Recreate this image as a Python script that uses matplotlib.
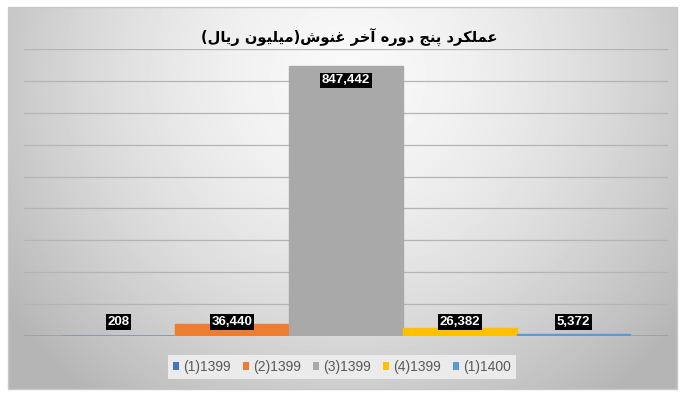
import numpy as np
import matplotlib
matplotlib.use('Agg')
import matplotlib.pyplot as plt
from matplotlib.patches import Rectangle

title = 'عملکرد پنج دوره آخر غنوش(میلیون ریال)'
periods = ['(1)1399', '(2)1399', '(3)1399', '(4)1399', '(1)1400']
values = [208, 36440, 847442, 26382, 5372]
colors = ['#4472C4', '#ED7D31', '#A9A9A9', '#FFC000', '#5B9BD5']

# matplotlib has no arabic shaping, so pick the contextual forms by hand
FORMS = {
    'ا': ('\uFE8D', '\uFE8E'), 'آ': ('\uFE81', '\uFE82'),
    'د': ('\uFEA9', '\uFEAA'), 'ر': ('\uFEAD', '\uFEAE'),
    'و': ('\uFEED', '\uFEEE'),
    'پ': ('\uFB56', '\uFB57', '\uFB58', '\uFB59'),
    'ج': ('\uFE9D', '\uFE9E', '\uFE9F', '\uFEA0'),
    'خ': ('\uFEA5', '\uFEA6', '\uFEA7', '\uFEA8'),
    'ش': ('\uFEB5', '\uFEB6', '\uFEB7', '\uFEB8'),
    'ع': ('\uFEC9', '\uFECA', '\uFECB', '\uFECC'),
    'غ': ('\uFECD', '\uFECE', '\uFECF', '\uFED0'),
    'ک': ('\uFB8E', '\uFB8F', '\uFB90', '\uFB91'),
    'ل': ('\uFEDD', '\uFEDE', '\uFEDF', '\uFEE0'),
    'م': ('\uFEE1', '\uFEE2', '\uFEE3', '\uFEE4'),
    'ن': ('\uFEE5', '\uFEE6', '\uFEE7', '\uFEE8'),
    'ه': ('\uFEE9', '\uFEEA', '\uFEEB', '\uFEEC'),
    'ی': ('\uFBFC', '\uFBFD', '\uFBFE', '\uFBFF'),
}


def rtl(text):
    out = []
    for i, c in enumerate(text):
        if c not in FORMS:
            out.append(c)
            continue
        f = FORMS[c]
        prev = text[i - 1] if i > 0 else ''
        nxt = text[i + 1] if i < len(text) - 1 else ''
        jp = prev in FORMS and len(FORMS[prev]) == 4
        jn = len(f) == 4 and nxt in FORMS
        if jp and jn:
            out.append(f[3])
        elif jp:
            out.append(f[1])
        elif jn:
            out.append(f[2])
        else:
            out.append(f[0])
    vis = ''.join(reversed(out))
    return vis.translate(str.maketrans('()', ')('))


plt.rcParams['font.family'] = ['Liberation Sans', 'DejaVu Sans']

fig = plt.figure(figsize=(7, 4), dpi=100)

# chart area with gray gradient background
bg = fig.add_axes([8 / 700, 11 / 400, 669 / 700, 382 / 400], zorder=0)
yy, xx = np.mgrid[0:382, 0:669]
r = np.sqrt(((xx - 340) / 350.0) ** 2 + ((yy - 70) / 340.0) ** 2)
shade = 0.975 - 0.2 * np.clip(r, 0, 1.2) ** 1.6
bg.imshow(shade, cmap='gray', vmin=0, vmax=1, aspect='auto', interpolation='bilinear')
bg.set_axis_off()
fig.patches.append(Rectangle((8 / 700, 11 / 400), 669 / 700, 382 / 400,
                             transform=fig.transFigure, fill=False,
                             edgecolor='#c8c8c8', linewidth=1, zorder=1))

ax = fig.add_axes([24 / 700, 64 / 400, 644 / 700, 287 / 400], zorder=2)
ax.patch.set_alpha(0)
x = np.arange(len(values))
bars = ax.bar(x, values, width=1.0, color=colors, linewidth=0, label=periods, zorder=3)
# the near-zero bars still show as a thin line over the axis in the original
ax.bar(x, values, width=1.0, fill=False, edgecolor=colors, linewidth=1.0, zorder=4)

ax.set_xlim(-0.83, 4.83)
ax.set_ylim(0, 900000)
ax.set_yticks(np.arange(100000, 900001, 100000))
ax.yaxis.grid(True, color='#b4b4b4', linewidth=0.9)
ax.set_axisbelow(True)
ax.axhline(0, color='#a0a0a0', linewidth=1.3, zorder=2)
ax.set_xticks([])
ax.tick_params(left=False, labelleft=False)
for s in ax.spines.values():
    s.set_visible(False)

lab_font = ['Liberation Sans Narrow', 'Liberation Sans', 'DejaVu Sans']
for i, v in enumerate(values):
    if v > 400000:
        xy, off = (i, v), -10.4
    else:
        xy, off = (i, 0), 10.1
    ax.annotate(f'{v:,}', xy=xy, xytext=(0, off), textcoords='offset points',
                ha='center', va='center', color='white', fontsize=9.5,
                fontweight='bold', family=lab_font, zorder=5,
                bbox=dict(boxstyle='square,pad=0.12', fc='black', ec='none'))

fig.text(349 / 700, 1 - 38 / 400, rtl(title), ha='center', va='center',
         fontsize=10.5, fontweight='bold', family=['DejaVu Sans'], color='black')

leg = fig.legend(handles=bars, labels=periods, loc='center', ncol=5,
                 bbox_to_anchor=(342 / 700, 1 - 367 / 400), fontsize=10,
                 frameon=True, fancybox=False, handlelength=0.45,
                 handleheight=0.45, handletextpad=0.3, columnspacing=0.85,
                 borderpad=0.35)
leg.get_frame().set_facecolor('#ebebeb')
leg.get_frame().set_edgecolor('none')
leg.get_frame().set_alpha(1)
for t in leg.get_texts():
    t.set_color('#595959')

fig.savefig('out.png', dpi=100)
